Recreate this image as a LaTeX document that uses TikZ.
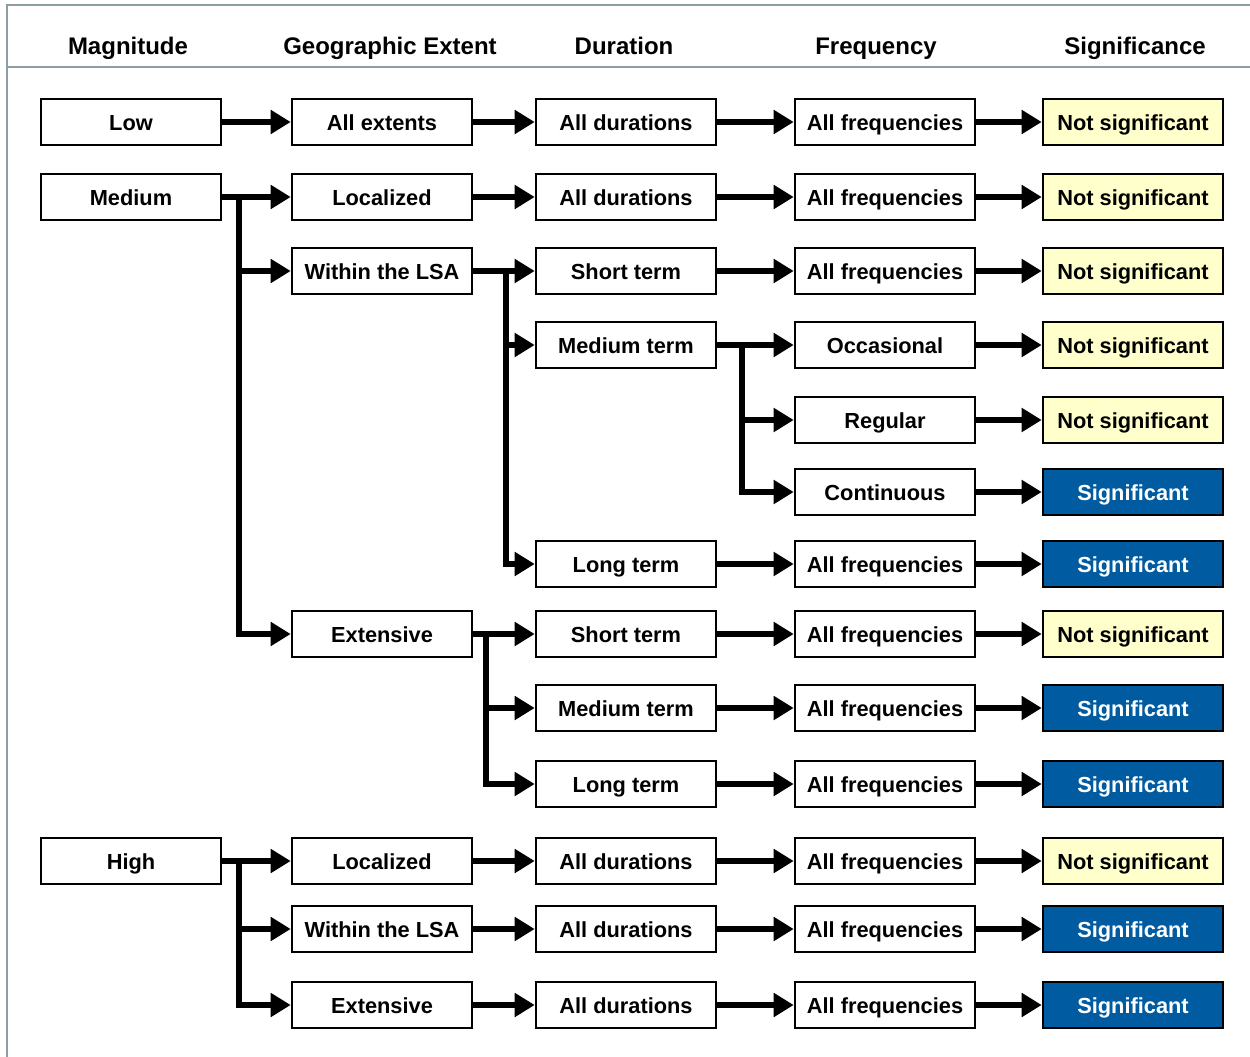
\documentclass[tikz,border=0pt]{standalone}
\usepackage{fontspec}
\setmainfont{Liberation Sans}
\usepackage{tikz}
\usetikzlibrary{arrows.meta}
\definecolor{sigblue}{RGB}{0,91,160}
\definecolor{nsyellow}{RGB}{255,255,204}
\definecolor{framegray}{RGB}{140,158,162}
\begin{document}
\begin{tikzpicture}[
    x=1pt, y=-1pt,
    box/.style={rectangle, draw=black, line width=2.6pt, fill=white, minimum width=180pt, minimum height=46pt, inner sep=0pt, text height=17pt, text depth=1pt, font=\bfseries\fontsize{21.8}{24}\selectfont},
    nsig/.style={box, fill=nsyellow},
    sig/.style={box, fill=sigblue, text=white},
    head/.style={anchor=base, font=\bfseries\fontsize{24}{27}\selectfont},
    arrow/.style={-{Triangle[length=20pt, width=23pt]}, line width=6pt},
    frame/.style={draw=framegray, line width=1.6pt}
]
    \useasboundingbox (0,0) rectangle (1250,1057);
    % frame and header
    \draw[frame] (1250,5) -- (7,5) -- (7,1057);
    \draw[frame] (7,67) -- (1250,67);
    \node[head] (hmag) at (128,55) {Magnitude};
    \node[head] (hgeo) at (390,55) {Geographic Extent};
    \node[head] (hdur) at (624,55) {Duration};
    \node[head] (hfreq) at (876,55) {Frequency};
    \node[head] (hsig) at (1135,55) {Significance};

    % low
    \node[box] (low) at (131,122) {Low};
    \node[box] (lowext) at (382,122) {All extents};
    \node[box] (lowdur) at (626,122) {All durations};
    \node[box] (lowfreq) at (885,122) {All frequencies};
    \node[nsig] (lowsig) at (1133,122) {Not significant};
    \draw[arrow] (low) -- (lowext);
    \draw[arrow] (lowext) -- (lowdur);
    \draw[arrow] (lowdur) -- (lowfreq);
    \draw[arrow] (lowfreq) -- (lowsig);

    % medium
    \node[box] (med) at (131,197) {Medium};
    \node[box] (medloc) at (382,197) {Localized};
    \node[box] (medlocdur) at (626,197) {All durations};
    \node[box] (medlocfreq) at (885,197) {All frequencies};
    \node[nsig] (medlocsig) at (1133,197) {Not significant};
    \draw[arrow] (med) -- (medloc);
    \draw[arrow] (medloc) -- (medlocdur);
    \draw[arrow] (medlocdur) -- (medlocfreq);
    \draw[arrow] (medlocfreq) -- (medlocsig);

    \node[box] (medlsa) at (382,271) {Within the LSA};
    \node[box] (lsashort) at (626,271) {Short term};
    \node[box] (lsashortfreq) at (885,271) {All frequencies};
    \node[nsig] (lsashortsig) at (1133,271) {Not significant};
    \draw[arrow] (med.east) -- ++(17,0) |- (medlsa.west);
    \draw[arrow] (medlsa) -- (lsashort);
    \draw[arrow] (lsashort) -- (lsashortfreq);
    \draw[arrow] (lsashortfreq) -- (lsashortsig);

    \node[box] (lsamed) at (626,345) {Medium term};
    \node[box] (lsaocc) at (885,345) {Occasional};
    \node[nsig] (lsaoccsig) at (1133,345) {Not significant};
    \node[box] (lsareg) at (885,420) {Regular};
    \node[nsig] (lsaregsig) at (1133,420) {Not significant};
    \node[box] (lsacont) at (885,492) {Continuous};
    \node[sig] (lsacontsig) at (1133,492) {Significant};
    \draw[arrow] (medlsa.east) -- ++(33,0) |- (lsamed.west);
    \draw[arrow] (lsamed) -- (lsaocc);
    \draw[arrow] (lsamed.east) -- ++(25,0) |- (lsareg.west);
    \draw[arrow] (lsamed.east) -- ++(25,0) |- (lsacont.west);
    \draw[arrow] (lsaocc) -- (lsaoccsig);
    \draw[arrow] (lsareg) -- (lsaregsig);
    \draw[arrow] (lsacont) -- (lsacontsig);

    \node[box] (lsalong) at (626,564) {Long term};
    \node[box] (lsalongfreq) at (885,564) {All frequencies};
    \node[sig] (lsalongsig) at (1133,564) {Significant};
    \draw[arrow] (medlsa.east) -- ++(33,0) |- (lsalong.west);
    \draw[arrow] (lsalong) -- (lsalongfreq);
    \draw[arrow] (lsalongfreq) -- (lsalongsig);

    \node[box] (medext) at (382,634) {Extensive};
    \node[box] (extshort) at (626,634) {Short term};
    \node[box] (extshortfreq) at (885,634) {All frequencies};
    \node[nsig] (extshortsig) at (1133,634) {Not significant};
    \draw[arrow] (med.east) -- ++(17,0) |- (medext.west);
    \draw[arrow] (medext) -- (extshort);
    \draw[arrow] (extshort) -- (extshortfreq);
    \draw[arrow] (extshortfreq) -- (extshortsig);

    \node[box] (extmed) at (626,708) {Medium term};
    \node[box] (extmedfreq) at (885,708) {All frequencies};
    \node[sig] (extmedsig) at (1133,708) {Significant};
    \node[box] (extlong) at (626,784) {Long term};
    \node[box] (extlongfreq) at (885,784) {All frequencies};
    \node[sig] (extlongsig) at (1133,784) {Significant};
    \draw[arrow] (medext.east) -- ++(13,0) |- (extmed.west);
    \draw[arrow] (medext.east) -- ++(13,0) |- (extlong.west);
    \draw[arrow] (extmed) -- (extmedfreq);
    \draw[arrow] (extmedfreq) -- (extmedsig);
    \draw[arrow] (extlong) -- (extlongfreq);
    \draw[arrow] (extlongfreq) -- (extlongsig);

    % high
    \node[box] (high) at (131,861) {High};
    \node[box] (hiloc) at (382,861) {Localized};
    \node[box] (hilocdur) at (626,861) {All durations};
    \node[box] (hilocfreq) at (885,861) {All frequencies};
    \node[nsig] (hilocsig) at (1133,861) {Not significant};
    \draw[arrow] (high) -- (hiloc);
    \draw[arrow] (hiloc) -- (hilocdur);
    \draw[arrow] (hilocdur) -- (hilocfreq);
    \draw[arrow] (hilocfreq) -- (hilocsig);

    \node[box] (hilsa) at (382,929) {Within the LSA};
    \node[box] (hilsadur) at (626,929) {All durations};
    \node[box] (hilsafreq) at (885,929) {All frequencies};
    \node[sig] (hilsasig) at (1133,929) {Significant};
    \draw[arrow] (high.east) -- ++(17,0) |- (hilsa.west);
    \draw[arrow] (hilsa) -- (hilsadur);
    \draw[arrow] (hilsadur) -- (hilsafreq);
    \draw[arrow] (hilsafreq) -- (hilsasig);

    \node[box] (hiext) at (382,1005) {Extensive};
    \node[box] (hiextdur) at (626,1005) {All durations};
    \node[box] (hiextfreq) at (885,1005) {All frequencies};
    \node[sig] (hiextsig) at (1133,1005) {Significant};
    \draw[arrow] (high.east) -- ++(17,0) |- (hiext.west);
    \draw[arrow] (hiext) -- (hiextdur);
    \draw[arrow] (hiextdur) -- (hiextfreq);
    \draw[arrow] (hiextfreq) -- (hiextsig);
\end{tikzpicture}
\end{document}
